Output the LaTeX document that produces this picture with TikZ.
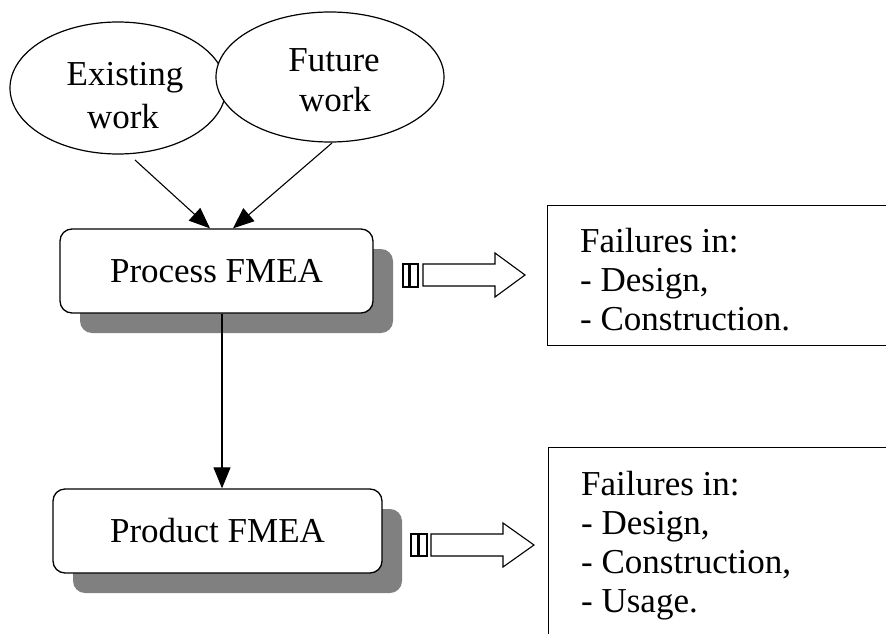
\documentclass[tikz,border=0pt]{standalone}
\usepackage{fontspec}
\setmainfont{Liberation Serif}
\newfontfamily\diagfont{Liberation Serif}
\usetikzlibrary{arrows.meta,shapes.geometric,shadows}
\definecolor{shadowgray}{RGB}{128,128,128}

\begin{document}
\begin{tikzpicture}[x=1pt,y=-1pt,
  every node/.style={font=\diagfont\fontsize{35}{39}\selectfont, inner sep=0pt},
  bubble/.style={draw, ellipse, fill=white, line width=1.2pt},
  fmea/.style={draw, rounded corners=12pt, fill=white, line width=1.3pt,
    drop shadow={shadow xshift=20pt, shadow yshift=-20pt, fill=shadowgray, draw=none, opacity=1}},
  listbox/.style={draw, fill=white, line width=1.3pt, anchor=north west},
  line/.style={anchor=base west},
  conn/.style={draw, line width=1.1pt, -{Triangle[length=21pt,width=17pt]}},
  blockarrow/.style={draw, line width=1.1pt, fill=white, line join=miter}
]
\useasboundingbox (0,0) rectangle (886,634);
\clip (0,0) rectangle (886,634);

% input sources
\node[bubble, minimum width=216pt, minimum height=132pt] (ex) at (118,88) {};
\node[bubble, minimum width=228pt, minimum height=130pt] (fu) at (330,77) {};
\node (ex1) at (125,78) {Existing};
\node (ex2) at (123,117) {work};
\node (fu1) at (334,60) {Future};
\node (fu2) at (335,100) {work};

% FMEA stages
\node[fmea, minimum width=313pt, minimum height=84pt] (proc) at (216.5,271) {Process FMEA};
\node[fmea, minimum width=329pt, minimum height=84pt] (prod) at (217.5,531) {Product FMEA};

% result lists
\node[listbox, minimum width=400pt, minimum height=140pt] (res1) at (547,205) {};
\node[line] (r1a) at (580,252) {Failures in:};
\node[line] (r1b) at (580,291) {- Design,};
\node[line] (r1c) at (580,330) {- Construction.};

\node[listbox, minimum width=400pt, minimum height=220pt] (res2) at (548,447) {};
\node[line] (r2a) at (581,495) {Failures in:};
\node[line] (r2b) at (581,534) {- Design,};
\node[line] (r2c) at (581,573) {- Construction,};
\node[line] (r2d) at (581,612) {- Usage.};

% connectors
\coordinate (exfoot) at (135,160);
\coordinate (fufoot) at (332,143);
\draw[conn] (exfoot) -- ([xshift=-6.5pt]proc.north);
\draw[conn] (fufoot) -- ([xshift=16.5pt]proc.north);
\draw[conn] ([xshift=5.5pt]proc.south) -- ([xshift=4.5pt]prod.north);

% block arrows towards the result lists
\draw[blockarrow] (403,264) rectangle (409,287);
\draw[blockarrow] (410,264) rectangle (418,287);
\draw[blockarrow] (423,264) -- (495,264) -- (495,253) -- (525,275)
  -- (495,297) -- (495,286) -- (423,286) -- cycle;

\draw[blockarrow] (411,534) rectangle (418,556);
\draw[blockarrow] (419,534) rectangle (427,556);
\draw[blockarrow] (431,534) -- (503,534) -- (503,523) -- (534,545)
  -- (503,567) -- (503,556) -- (431,556) -- cycle;
\end{tikzpicture}
\end{document}
